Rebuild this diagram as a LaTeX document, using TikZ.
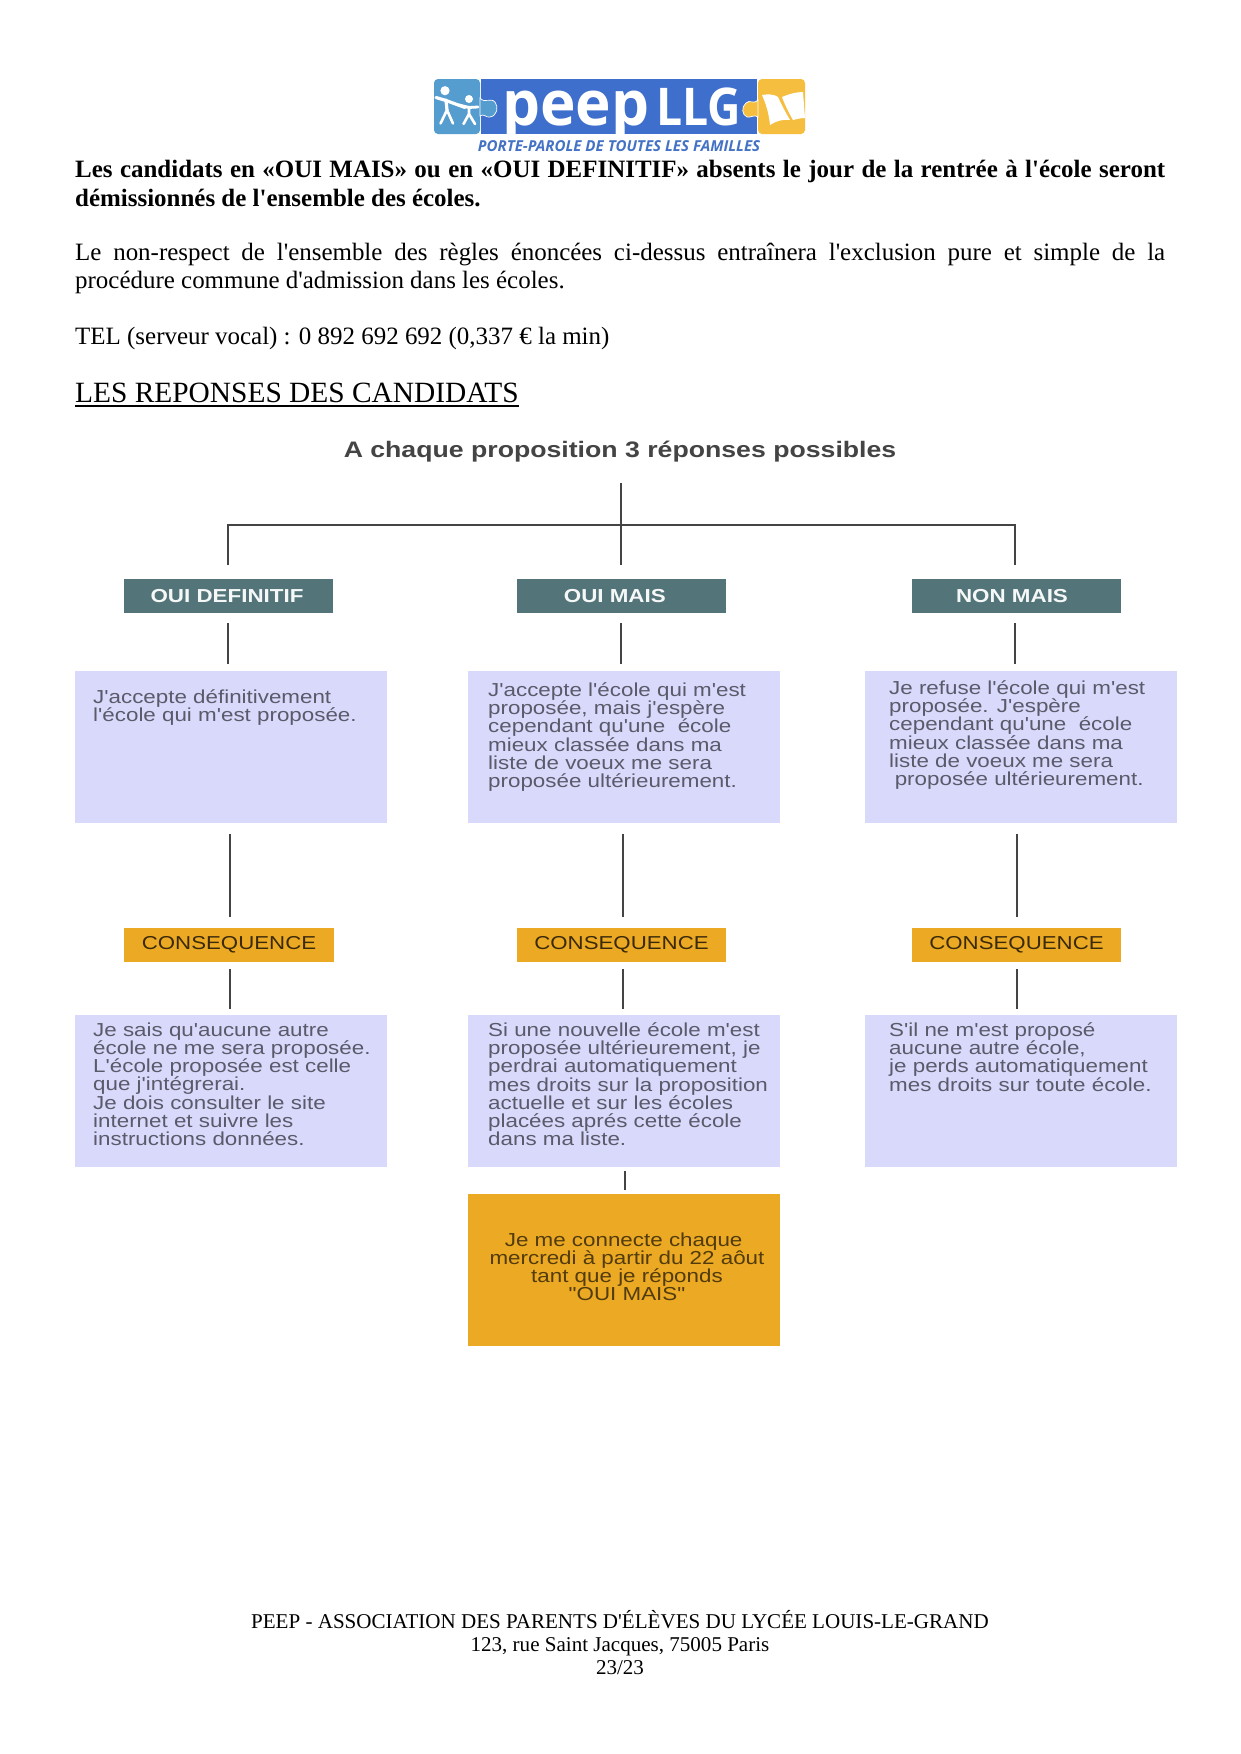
\documentclass[tikz,border=0pt]{standalone}
\usepackage{fontspec}
\usetikzlibrary{calc}
\setmainfont[Ligatures=TeXOff]{Liberation Serif}
\newfontfamily\dia[FakeStretch=1.19,Ligatures=TeXOff]{Liberation Sans}
\newfontfamily\logofont[FakeStretch=0.97]{Open Sans}
\newfontfamily\logonar[FakeStretch=0.89]{Open Sans}
\newfontfamily\logotagf{Open Sans}
\definecolor{teal}{HTML}{537478}
\definecolor{ora}{HTML}{EBA924}
\definecolor{lav}{HTML}{D9D9FB}
\definecolor{lineg}{HTML}{444444}
\definecolor{txtg}{HTML}{5A5A6A}
\definecolor{logoblue}{HTML}{3F6FCC}
\definecolor{logolight}{HTML}{559CCF}
\definecolor{logoyel}{HTML}{F5BE3F}
\definecolor{tagblue}{HTML}{4472C4}
\tikzset{
  x=1pt,y=-1pt,
  bodyline/.style={anchor=base west,inner sep=0pt,font=\fontsize{24.95}{28}\selectfont},
  footline/.style={anchor=base,inner sep=0pt,font=\fontsize{21.05}{23}\selectfont},
  tealbox/.style={fill=teal,minimum width=209.5pt,minimum height=34pt,inner sep=0pt,text=white!95!teal,font=\dia\bfseries\fontsize{18.8}{18.8}\selectfont},
  conbox/.style={fill=ora,minimum width=209.5pt,minimum height=34pt,inner sep=0pt,text=black!75!ora,font=\dia\fontsize{18.7}{18.7}\selectfont},
  lavbox/.style={fill=lav,minimum width=312pt,minimum height=152pt,inner sep=0pt},
  orabox/.style={fill=ora,minimum width=312pt,minimum height=152pt,inner sep=0pt},
  boxtext/.style={anchor=north west,inner sep=0pt,align=left,text=txtg,font=\dia\fontsize{18.8}{18.2}\selectfont},
  conn/.style={draw=lineg,line width=1.8pt},
  figure/.style={draw=white,line width=3.2pt,line cap=round,line join=round},
}
\begin{document}
\begin{tikzpicture}
\useasboundingbox (0,0) rectangle (1241,1754);
\fill[white] (0,0) rectangle (1241,1754);
% --- logo
\fill[logoblue] (481,79) rectangle (757,134);
\fill[logolight,rounded corners=4pt] (480,79) -- (434,79) -- (434,134) -- (480,134) -- cycle;
\fill[logolight,draw=white,line width=0.7pt] (480,98) .. controls (485,104) and (490,97) .. (495,102) .. controls (499,107) and (497,116) .. (490,117) .. controls (486,118) and (484,113) .. (480,116) -- cycle;
\fill[logoyel,rounded corners=4pt] (758,79) -- (805,79) -- (805,134) -- (758,134) -- cycle;
\fill[logoyel,draw=white,line width=0.7pt] (758,100) .. controls (753,105) and (750,99) .. (746,103) .. controls (741,107) and (742,115) .. (747,117) .. controls (751,118) and (754,114) .. (758,117) -- cycle;
\fill[white] (445,90.7) circle (4.6pt);
\fill[white] (469,99) circle (4pt);
\draw[figure] (436,97.5) -- (446,100.5) -- (465,107.5);
\draw[figure] (446,100) -- (447,110);
\draw[figure,line width=2.6pt] (447,110) -- (440.5,123.5) (447,110) -- (453,123.5);
\draw[figure,line width=2.8pt] (459,105) -- (469,107.5) -- (478,107);
\draw[figure,line width=2.6pt] (469,107) -- (469,114) -- (463.5,124) (469,114) -- (475,124);
\fill[white] (762,95) .. controls (768,94) and (774,94) .. (778,97) .. controls (782,106) and (786,113) .. (790,120) .. controls (783,119) and (776,121) .. (770,125) .. controls (769,114) and (766,104) .. (762,95) -- cycle;
\fill[white] (782,97) .. controls (789,94) and (796,92) .. (803,92) -- (805,118) .. controls (801,118) and (797,119) .. (793,120) .. controls (789,113) and (785,105) .. (782,97) -- cycle;
\node[anchor=base west,inner sep=0pt,text=white] (logopeep) at (502,125) {\logofont\bfseries\fontsize{62}{62}\selectfont peep};
\node[anchor=base west,inner sep=0pt,text=white] (logollg) at (656,125) {\logonar\bfseries\fontsize{52}{52}\selectfont LLG};
\node[anchor=base,inner sep=0pt,text=tagblue] (logotag) at (619,151) {\logotagf\bfseries\itshape\fontsize{15.1}{15.1}\selectfont PORTE-PAROLE DE TOUTES LES FAMILLES};
% --- body text
\node[bodyline] (p1a) at (75,177) {\bfseries\hbox to 1090pt{Les candidats en «OUI MAIS» ou en «OUI DEFINITIF» absents le jour de la rentrée à l'école seront}};
\node[bodyline] (p1b) at (75,206) {\bfseries démissionnés de l'ensemble des écoles.};
\node[bodyline] (p2a) at (75,260) {\hbox to 1090pt{Le non-respect de l'ensemble des règles énoncées ci-dessus entraînera l'exclusion pure et simple de la}};
\node[bodyline] (p2b) at (75,288) {procédure commune d'admission dans les écoles.};
\node[bodyline] (p3) at (75,344) {TEL (serveur vocal) : 0 892 692 692 (0,337 € la min)};
\node[bodyline,font=\fontsize{29.4}{32}\selectfont] (p4) at (75,402) {LES REPONSES DES CANDIDATS};
\draw[black,line width=1.2pt] (p4.base west)++(0,4) -- ($(p4.base east)+(0,4)$);
% --- title
\node[inner sep=0pt,text=lineg] (title) at (620,452) {\dia\bfseries\fontsize{22.4}{23}\selectfont A chaque proposition 3 réponses possibles};
% --- boxes
\node[tealbox] (t1) at (228.7,596) {\raisebox{-1pt}{OUI DEFINITIF}\hspace*{3.4pt}\null};
\node[tealbox] (t2) at (621.5,596) {\raisebox{-1pt}{OUI MAIS}\hspace*{13.4pt}\null};
\node[tealbox] (t3) at (1016.5,596) {\raisebox{-1pt}{NON MAIS}\hspace*{9pt}\null};
\node[lavbox] (a1) at (231,747) {};
\node[lavbox] (a2) at (624,747) {};
\node[lavbox] (a3) at (1021,747) {};
\node[conbox] (c1) at (229,945) {\raisebox{-1.5pt}{CONSEQUENCE}};
\node[conbox] (c2) at (621.5,945) {\raisebox{-1.5pt}{CONSEQUENCE}};
\node[conbox] (c3) at (1016.5,945) {\raisebox{-1.5pt}{CONSEQUENCE}};
\node[lavbox] (b1) at (231,1091) {};
\node[lavbox] (b2) at (624,1091) {};
\node[lavbox] (b3) at (1021,1091) {};
\node[orabox] (o) at (624,1270) {};
% --- box texts
\node[boxtext] (ta1) at (93,689.5) {J'accepte définitivement\\l'école qui m'est proposée.};
\node[boxtext] (ta2) at (488,682.5) {J'accepte l'école qui m'est\\proposée, mais j'espère\\cependant qu'une\ \ école\\mieux classée dans ma\\liste de voeux me sera\\proposée ultérieurement.};
\node[boxtext] (ta3) at (889,680.5) {Je refuse l'école qui m'est\\proposée. J'espère\\cependant qu'une\ \ école\\mieux classée dans ma\\liste de voeux me sera\\\hspace*{5.6pt}proposée ultérieurement.};
\node[boxtext] (tb1) at (93,1022.5) {Je sais qu'aucune autre\\école ne me sera proposée.\\L'école proposée est celle\\que j'intégrerai.\\Je dois consulter le site\\internet et suivre les\\instructions données.};
\node[boxtext] (tb2) at (488,1022.5) {Si une nouvelle école m'est\\proposée ultérieurement, je\\perdrai automatiquement\\mes droits sur la proposition\\actuelle et sur les écoles\\placées aprés cette école\\dans ma liste.};
\node[boxtext] (tb3) at (889,1022.5) {S'il ne m'est proposé\\aucune autre école,\\je perds automatiquement\\mes droits sur toute école.};
\node[boxtext,anchor=north,align=center,text=black!65!ora] (to) at (627,1232.5) {Je me connecte chaque\hspace*{6.7pt}\null\\mercredi à partir du 22 aôut\\tant que je réponds\\"OUI MAIS"};
% --- connectors
\coordinate (top) at (621,483);
\coordinate (mid) at (621,525);
\coordinate (hl) at (228,525);
\coordinate (hr) at (1015,525);
\coordinate (e1) at (228,565);
\coordinate (e2) at (621,565);
\coordinate (e3) at (1015,565);
\draw[conn] (top) -- (e2);
\draw[conn] (e1) -- (hl) -- (hr) -- (e3);
\foreach \n/\x/\xx in {1/228/230,2/621/623,3/1015/1017}{
  \coordinate (ua\n) at (\x,623);
  \coordinate (ub\n) at (\x,664);
  \coordinate (va\n) at (\xx,834);
  \coordinate (vb\n) at (\xx,917);
  \coordinate (wa\n) at (\xx,969);
  \coordinate (wb\n) at (\xx,1009);
  \draw[conn] (ua\n) -- (ub\n);
  \draw[conn] (va\n) -- (vb\n);
  \draw[conn] (wa\n) -- (wb\n);
}
\coordinate (xa) at (625,1171);
\coordinate (xb) at (625,1190);
\draw[conn] (xa) -- (xb);
% --- footer
\node[footline] (f1) at (620,1628) {PEEP - ASSOCIATION DES PARENTS D'ÉLÈVES DU LYCÉE LOUIS-LE-GRAND};
\node[footline] (f2) at (620,1651) {123, rue Saint Jacques, 75005 Paris};
\node[footline] (f3) at (620,1674) {23/23};
\end{tikzpicture}
\end{document}
